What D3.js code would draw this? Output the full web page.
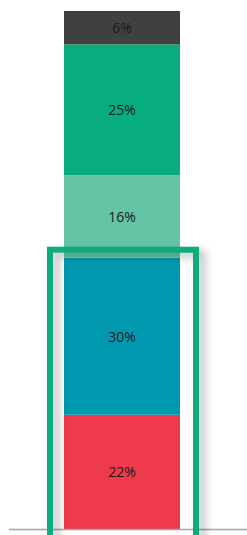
<!DOCTYPE html>
<html>
<head>
<meta charset="utf-8">
<script src="https://cdn.jsdelivr.net/npm/d3@7"></script>
<style>
  html, body { margin: 0; padding: 0; background: #fff; }
  svg { display: block; }
</style>
</head>
<body>
<div id="chart"></div>
<script>
// segments, bottom to top
const segments = ["red", "teal", "lightgreen", "green", "dark"];
const shares = [21.9, 30.1, 15.8, 25.1, 6.4];
const colors = ["#ef3a4c", "#0099b0", "#66c4a6", "#07ac7f", "#404040"];

const width = 247;
const height = 535;
const baseY = 529;
const topY = 11;

const svg = d3.select("#chart")
  .append("svg")
    .attr("width", width)
    .attr("height", height);

const defs = svg.append("defs");
const shadow = defs.append("filter")
    .attr("id", "shadow")
    .attr("x", "-30%").attr("y", "-30%")
    .attr("width", "160%").attr("height", "160%");
shadow.append("feDropShadow")
    .attr("dx", 6)
    .attr("dy", 4)
    .attr("stdDeviation", 4.5)
    .attr("flood-color", "#000")
    .attr("flood-opacity", 0.28);

// stack the values
let acc = 0;
const stacked = shares.map((v, i) => {
  const d = {key: segments[i], value: v, y0: acc, y1: acc + v, color: colors[i]};
  acc += v;
  return d;
});

let y = d3.scaleLinear()
    .domain([0, acc])
    .range([baseY, topY]);

let x = d3.scaleBand()
    .domain(["bar"])
    .range([64, 180]);

svg.selectAll(".seg")
  .data(stacked)
  .join("rect")
    .attr("class", "seg")
    .attr("x", x("bar"))
    .attr("width", x.bandwidth())
    .attr("y", d => y(d.y1))
    .attr("height", d => y(d.y0) - y(d.y1))
    .attr("fill", d => d.color);

svg.selectAll(".lbl")
  .data(stacked)
  .join("text")
    .attr("class", "lbl")
    .attr("x", x("bar") + x.bandwidth() / 2)
    .attr("y", d => (y(d.y0) + y(d.y1)) / 2)
    .attr("text-anchor", "middle")
    .attr("dominant-baseline", "central")
    .attr("font-family", "'Open Sans', sans-serif")
    .attr("font-size", 14)
    .attr("fill", "#1a1a1a")
    .text(d => Math.round(d.value) + "%");

// baseline
svg.append("line")
    .attr("x1", 9)
    .attr("x2", width)
    .attr("y1", baseY + 0.5)
    .attr("y2", baseY + 0.5)
    .attr("stroke", "#a5a5a5")
    .attr("stroke-width", 1.5);

// highlight frame around the lower two segments
svg.append("rect")
    .attr("x", 50)
    .attr("y", y(stacked[1].y1) - 8)
    .attr("width", 146)
    .attr("height", 400)
    .attr("fill", "none")
    .attr("stroke", "#0aab7e")
    .attr("stroke-width", 6)
    .attr("filter", "url(#shadow)");
</script>
</body>
</html>
